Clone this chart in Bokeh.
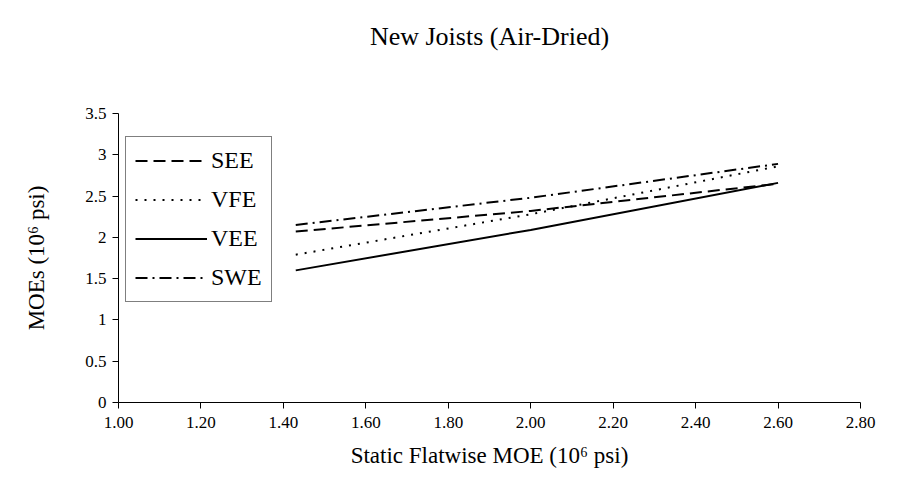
from bokeh.plotting import figure
from bokeh.models import Legend, LegendItem, FixedTicker, Range1d
from bokeh.embed import file_html
from bokeh.resources import INLINE

# ---- data ----
x_vals = [1.43, 2.00, 2.60]
see = [2.07, 2.32, 2.65]
vfe = [1.79, 2.28, 2.86]
vee = [1.60, 2.09, 2.66]
swe = [2.15, 2.48, 2.89]

x_ticks = [1.0, 1.2, 1.4, 1.6, 1.8, 2.0, 2.2, 2.4, 2.6, 2.8]
x_tick_labels = ["1.00", "1.20", "1.40", "1.60", "1.80", "2.00", "2.20", "2.40", "2.60", "2.80"]
y_ticks = [0, 0.5, 1, 1.5, 2, 2.5, 3, 3.5]
y_tick_labels = ["0", "0.5", "1", "1.5", "2", "2.5", "3", "3.5"]

FONT = "Liberation Serif"

p = figure(width=883, height=480, output_backend="svg", toolbar_location=None,
           x_range=Range1d(1.0, 2.8), y_range=Range1d(0, 3.5),
           min_border_left=118, min_border_right=23, min_border_top=113, min_border_bottom=78)
p.outline_line_color = None
p.xgrid.visible = False
p.ygrid.visible = False

# trailing blank line lifts the visible title line away from the frame
p.title.text = "New Joists (Air-Dried)\n"
p.title.align = "center"
p.title.text_font = FONT
p.title.text_font_size = "26px"
p.title.text_font_style = "normal"
p.title.text_color = "black"
p.title.text_line_height = 1.55
p.title.standoff = 36

for ax in (p.xaxis[0], p.yaxis[0]):
    ax.axis_line_color = "black"
    ax.major_tick_line_color = "black"
    ax.major_tick_in = 0
    ax.major_tick_out = 6
    ax.minor_tick_line_color = None
    ax.major_label_text_font = FONT
    ax.major_label_text_font_size = "17px"
    ax.major_label_text_color = "black"
    ax.axis_label_text_font = FONT
    ax.axis_label_text_font_size = "23px"
    ax.axis_label_text_font_style = "normal"
    ax.axis_label_text_color = "black"

p.xaxis[0].ticker = FixedTicker(ticks=x_ticks)
p.xaxis[0].major_label_overrides = dict(zip(x_ticks, x_tick_labels))
p.yaxis[0].ticker = FixedTicker(ticks=y_ticks)
p.yaxis[0].major_label_overrides = dict(zip(y_ticks, y_tick_labels))
p.xaxis[0].axis_label = "Static Flatwise MOE (10\u2076 psi)"
p.yaxis[0].axis_label = "MOEs (10\u2076 psi)"
p.xaxis[0].major_label_standoff = 8
p.yaxis[0].major_label_standoff = 6
p.xaxis[0].axis_label_standoff = 12
p.yaxis[0].axis_label_standoff = 33

r_see = p.line(x_vals, see, line_color="black", line_width=2, line_dash="12 6")
r_vfe = p.line(x_vals, vfe, line_color="black", line_width=2, line_dash="2 7")
r_vee = p.line(x_vals, vee, line_color="black", line_width=2)
r_swe = p.line(x_vals, swe, line_color="black", line_width=2, line_dash="12 5 2 5")

legend = Legend(items=[LegendItem(label="SEE", renderers=[r_see]),
                       LegendItem(label="VFE", renderers=[r_vfe]),
                       LegendItem(label="VEE", renderers=[r_vee]),
                       LegendItem(label="SWE", renderers=[r_swe])],
                location=(7, 100))
legend.border_line_color = "black"
legend.border_line_width = 1
legend.background_fill_color = "white"
legend.background_fill_alpha = 1
legend.label_text_font = FONT
legend.label_text_font_size = "24px"
legend.label_text_color = "black"
legend.glyph_width = 72
legend.glyph_height = 29
legend.label_height = 29
legend.label_standoff = 4
legend.spacing = 10
legend.padding = 9
legend.margin = 0
p.add_layout(legend, "center")

open("out.html", "w").write(file_html(p, INLINE))
